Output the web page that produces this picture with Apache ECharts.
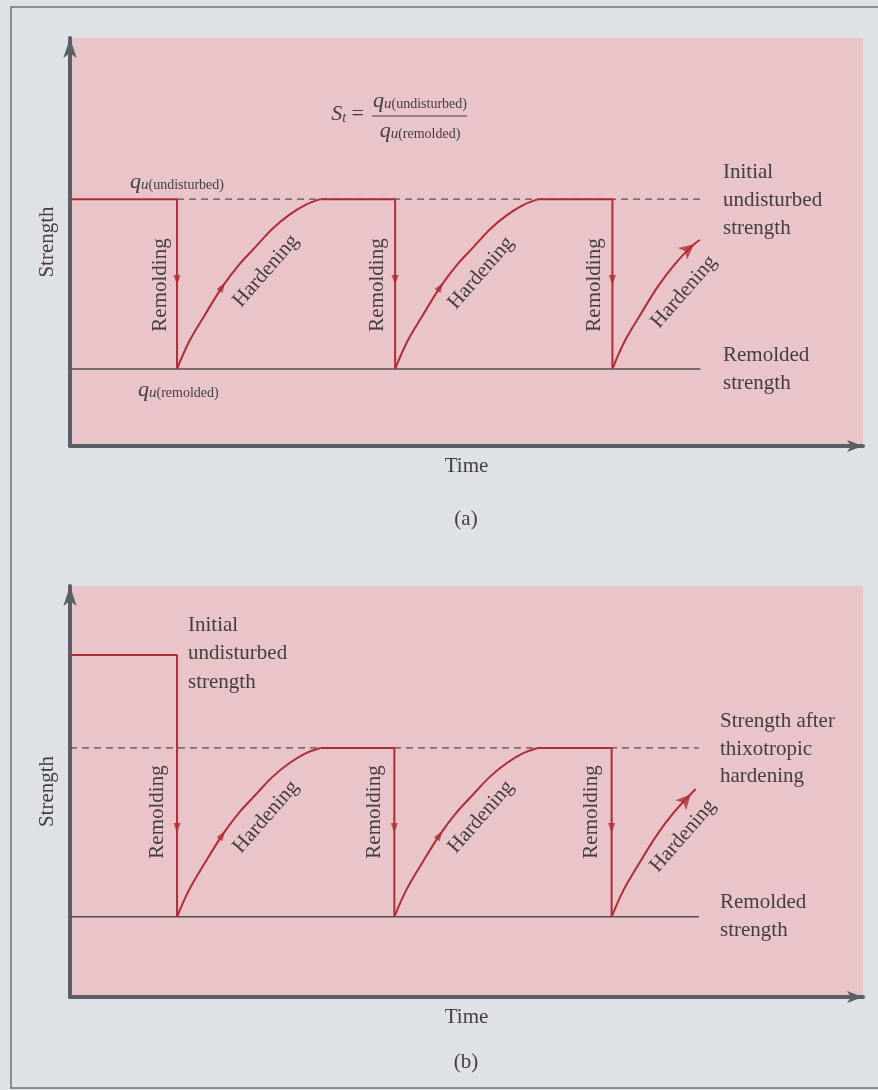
<!DOCTYPE html>
<html><head><meta charset="utf-8">
<script src="https://cdn.jsdelivr.net/npm/echarts@6/dist/echarts.min.js"></script>
<style>html,body{margin:0;padding:0;background:#dee1e5;}#c{width:878px;height:1090px;}</style>
</head><body><div id="c"></div><script>
// ---------- Panel (a) data (schematic units: time 0-100, strength 0-100) ----------
const aSteps = [
  [[0, 60.5], [13.5, 60.5], [13.5, 18.9]],
  [[31.6, 60.5], [41.0, 60.5], [41.0, 18.9]],
  [[59.1, 60.5], [68.4, 60.5], [68.4, 18.9]]
];
const aHardening = [
  [[13.5, 18.9], [15.0, 25.5], [17.0, 32.1], [19.2, 39.0], [21.3, 44.4], [23.4, 48.8], [25.5, 53.2], [27.6, 56.6], [29.7, 59.1], [31.6, 60.5]],
  [[41.0, 18.9], [42.5, 25.5], [44.5, 32.1], [46.7, 39.0], [48.8, 44.4], [50.9, 48.8], [53.0, 53.2], [55.1, 56.6], [57.2, 59.1], [59.1, 60.5]],
  [[68.4, 18.9], [69.9, 25.5], [71.9, 32.1], [74.1, 39.0], [76.2, 44.4], [78.3, 48.8], [79.4, 50.5]]
];
const aDashed = [[13.5, 60.5], [79.5, 60.5]];
const aRemoldedLine = [[0, 18.9], [79.5, 18.9]];
const aRemoldArrows = [[13.5, 40.7], [41.0, 40.7], [68.4, 40.7]];
const aHardenArrows = [[19.2, 39.0], [46.7, 39.0]];

// ---------- Panel (b) data ----------
const bSteps = [
  [[0, 83.2], [13.5, 83.2], [13.5, 19.5]],
  [[31.6, 60.6], [40.9, 60.6], [40.9, 19.5]],
  [[59.0, 60.6], [68.3, 60.6], [68.3, 19.5]]
];
const bHardening = [
  [[13.5, 19.5], [15.0, 26.0], [17.0, 32.6], [19.2, 39.4], [21.3, 44.8], [23.4, 49.2], [25.5, 53.5], [27.6, 56.8], [29.7, 59.3], [31.6, 60.6]],
  [[40.9, 19.5], [42.4, 26.0], [44.4, 32.6], [46.6, 39.4], [48.7, 44.8], [50.8, 49.2], [52.9, 53.5], [55.0, 56.8], [57.1, 59.3], [59.0, 60.6]],
  [[68.3, 19.5], [69.8, 26.0], [71.8, 32.6], [74.0, 39.4], [76.1, 44.8], [78.9, 50.6]]
];
const bDashed = [[0, 60.6], [79.3, 60.6]];
const bRemoldedLine = [[0, 19.5], [79.3, 19.5]];
const bRemoldArrows = [[13.5, 41.1], [40.9, 41.1], [68.3, 41.1]];
const bHardenArrows = [[19.2, 39.4], [46.6, 39.4]];

const axisNames = { x: 'Time', y: 'Strength' };
const axisRange = { xMax: 100, yMax: 100 };

// ---------- styles ----------
const RED = '#b02c36', DARKLINE = '#56504f', AXIS = '#5a5f66', PINK = '#e9c4c9', BG = '#dee1e5', TXT = '#433d3e';
const SERIF = '"Liberation Serif","Times New Roman",serif';

const chart = echarts.init(document.getElementById('c'), null, { renderer: 'canvas' });

function xAx(g) {
  return {
    type: 'value', gridIndex: g, min: 0, max: axisRange.xMax,
    axisLine: { show: true, onZero: false, symbol: ['none', 'arrow'], symbolSize: [9, 16],
      lineStyle: { color: AXIS, width: 4 } },
    axisTick: { show: false }, axisLabel: { show: false }, splitLine: { show: false },
    name: axisNames.x, nameLocation: 'middle', nameGap: 10,
    nameTextStyle: { fontFamily: SERIF, fontSize: 21, color: TXT, verticalAlign: 'top' }
  };
}
function yAx(g) {
  return {
    type: 'value', gridIndex: g, min: 0, max: axisRange.yMax,
    axisLine: { show: true, onZero: false, symbol: ['none', 'arrow'], symbolSize: [10, 20],
      lineStyle: { color: AXIS, width: 4 } },
    axisTick: { show: false }, axisLabel: { show: false }, splitLine: { show: false },
    name: axisNames.y, nameLocation: 'middle', nameGap: 12, nameRotate: 90,
    nameTextStyle: { fontFamily: SERIF, fontSize: 21, color: TXT }
  };
}

function panelSeries(g, steps, curves, dashed, remLine, remArrows, hardArrows) {
  const base = { xAxisIndex: g, yAxisIndex: g, symbol: 'none', silent: true, animation: false };
  const s = [];
  s.push(Object.assign({ id: 'dash' + g, type: 'line', data: dashed, z: 2,
    lineStyle: { color: DARKLINE, width: 1.3, type: [7, 5] } }, base));
  s.push(Object.assign({ id: 'rem' + g, type: 'line', data: remLine, z: 2,
    lineStyle: { color: DARKLINE, width: 1.5 } }, base));
  steps.forEach((st, i) => s.push(Object.assign({ id: 'step' + g + '_' + i, type: 'line', data: st, z: 3,
    lineStyle: { color: RED, width: 2 } }, base)));
  curves.forEach((c, i) => s.push(Object.assign({ id: 'curve' + g + '_' + i, type: 'line', data: c, z: 3, smooth: 0.35,
    lineStyle: { color: RED, width: 2 } }, base)));
  s.push({ id: 'remArr' + g, type: 'scatter', xAxisIndex: g, yAxisIndex: g, data: remArrows, symbol: 'triangle',
    symbolSize: [7, 10], itemStyle: { color: RED }, z: 4, silent: true, animation: false });
  s.push({ id: 'hardArr' + g, type: 'scatter', xAxisIndex: g, yAxisIndex: g, data: hardArrows, symbol: 'triangle',
    symbolSize: [7, 10], itemStyle: { color: RED }, z: 4, silent: true, animation: false });
  s.push({ id: 'endArr' + g, type: 'scatter', xAxisIndex: g, yAxisIndex: g, data: [], symbol: 'arrow',
    symbolSize: [11, 15], itemStyle: { color: RED }, z: 4, silent: true, animation: false });
  return s;
}

function txt(x, y, text, extra) {
  return Object.assign({ type: 'text', x: x, y: y, silent: true, z: 10,
    style: Object.assign({ text: text, fill: TXT, fontFamily: SERIF, fontSize: 21 }, extra || {}) });
}
function rot(x, y, text, deg) {
  return { type: 'text', x: x, y: y, rotation: deg * Math.PI / 180, silent: true, z: 10,
    style: { text: text, fill: TXT, fontFamily: SERIF, fontSize: 21, align: 'center', verticalAlign: 'middle' } };
}
const qRich = {
  q: { fontFamily: SERIF, fontStyle: 'italic', fontSize: 22, fill: TXT, lineHeight: 22 },
  u: { fontFamily: SERIF, fontStyle: 'italic', fontSize: 15, fill: TXT, lineHeight: 16, padding: [7, 0, 0, 0] },
  s: { fontFamily: SERIF, fontSize: 14, fill: TXT, lineHeight: 16, padding: [7, 0, 0, 0] },
  S: { fontFamily: SERIF, fontStyle: 'italic', fontSize: 22, fill: TXT, lineHeight: 22 },
  t: { fontFamily: SERIF, fontStyle: 'italic', fontSize: 14, fill: TXT, lineHeight: 16, padding: [8, 0, 0, 0] },
  eq: { fontFamily: SERIF, fontSize: 22, fill: TXT, lineHeight: 22 }
};
function qText(x, y, sub, align) {
  return { type: 'text', x: x, y: y, silent: true, z: 10,
    style: { text: '{q|q}{u|u}{s|(' + sub + ')}', rich: qRich, align: align, verticalAlign: 'middle' } };
}

const graphics = [
  { type: 'rect', shape: { x: 11, y: 7, width: 880, height: 1081 }, style: { fill: 'none', stroke: '#6f7276', lineWidth: 1.5 }, silent: true, z: 0 },
  // panel (a)
  { type: 'text', x: 364, y: 114, silent: true, z: 10,
    style: { text: '{S|S}{t|t}{eq| =}', rich: qRich, align: 'right', verticalAlign: 'middle' } },
  qText(420, 101, 'undisturbed', 'center'),
  { type: 'line', shape: { x1: 372, y1: 116, x2: 467, y2: 116 }, style: { stroke: TXT, lineWidth: 1.2 }, silent: true, z: 10 },
  qText(420, 131, 'remolded', 'center'),
  qText(130, 182, 'undisturbed', 'left'),
  qText(138, 390, 'remolded', 'left'),
  txt(723, 158, 'Initial\nundisturbed\nstrength', { lineHeight: 28, verticalAlign: 'top' }),
  txt(723, 341, 'Remolded\nstrength', { lineHeight: 28, verticalAlign: 'top' }),
  rot(160, 285, 'Remolding', 90), rot(377, 285, 'Remolding', 90), rot(594, 285, 'Remolding', 90),
  rot(266, 271, 'Hardening', 49), rot(481, 273, 'Hardening', 49), rot(684, 292, 'Hardening', 49),
  txt(466, 519, '(a)', { align: 'center', verticalAlign: 'middle' }),
  // panel (b)
  txt(188, 611, 'Initial\nundisturbed\nstrength', { lineHeight: 28.5, verticalAlign: 'top' }),
  txt(720, 708, 'Strength after\nthixotropic\nhardening', { lineHeight: 27.5, verticalAlign: 'top' }),
  txt(720, 888, 'Remolded\nstrength', { lineHeight: 28, verticalAlign: 'top' }),
  rot(157, 812, 'Remolding', 90), rot(374, 812, 'Remolding', 90), rot(591, 812, 'Remolding', 90),
  rot(266, 817, 'Hardening', 49), rot(481, 817, 'Hardening', 49), rot(683, 836, 'Hardening', 49),
  txt(466, 1062, '(b)', { align: 'center', verticalAlign: 'middle' })
];

const option = {
  backgroundColor: BG,
  animation: false,
  grid: [
    { left: 70, right: 15, top: 38, height: 408, show: true, backgroundColor: PINK, borderWidth: 0 },
    { left: 70, right: 15, top: 586, height: 411, show: true, backgroundColor: PINK, borderWidth: 0 }
  ],
  xAxis: [xAx(0), xAx(1)],
  yAxis: [yAx(0), yAx(1)],
  series: panelSeries(0, aSteps, aHardening, aDashed, aRemoldedLine, aRemoldArrows, aHardenArrows)
    .concat(panelSeries(1, bSteps, bHardening, bDashed, bRemoldedLine, bRemoldArrows, bHardenArrows)),
  graphic: graphics
};
chart.setOption(option);

// orient arrowheads along the drawn paths, using the chart's own scales
function angle(g, p0, p1) {
  const a = chart.convertToPixel({ gridIndex: g }, p0), b = chart.convertToPixel({ gridIndex: g }, p1);
  return -Math.atan2(b[0] - a[0], -(b[1] - a[1])) * 180 / Math.PI;
}
function nearestIdx(curve, p) {
  let best = 0, bd = Infinity;
  curve.forEach((q, i) => { const d = Math.hypot(q[0] - p[0], q[1] - p[1]); if (d < bd) { bd = d; best = i; } });
  return best;
}
function orient(g, steps, curves, remArrows, hardArrows) {
  const rem = remArrows.map((p, i) => ({ value: p, symbolRotate: angle(g, steps[i][1], steps[i][2]) }));
  const hard = hardArrows.map((p, i) => {
    const c = curves[i], k = nearestIdx(c, p);
    return { value: p, symbolRotate: angle(g, c[Math.max(0, k - 1)], c[Math.min(c.length - 1, k + 1)]) };
  });
  const last = curves[curves.length - 1];
  const p0 = last[last.length - 2], p1 = last[last.length - 1];
  const a = chart.convertToPixel({ gridIndex: g }, p0), b = chart.convertToPixel({ gridIndex: g }, p1);
  const L = Math.hypot(b[0] - a[0], b[1] - a[1]);
  const c = [b[0] - (b[0] - a[0]) / L * 7, b[1] - (b[1] - a[1]) / L * 7];
  const end = [{ value: chart.convertFromPixel({ gridIndex: g }, c), symbolRotate: angle(g, p0, p1) }];
  return [{ id: 'remArr' + g, data: rem }, { id: 'hardArr' + g, data: hard }, { id: 'endArr' + g, data: end }];
}
chart.setOption({ series: orient(0, aSteps, aHardening, aRemoldArrows, aHardenArrows)
  .concat(orient(1, bSteps, bHardening, bRemoldArrows, bHardenArrows)) });
</script></body></html>
